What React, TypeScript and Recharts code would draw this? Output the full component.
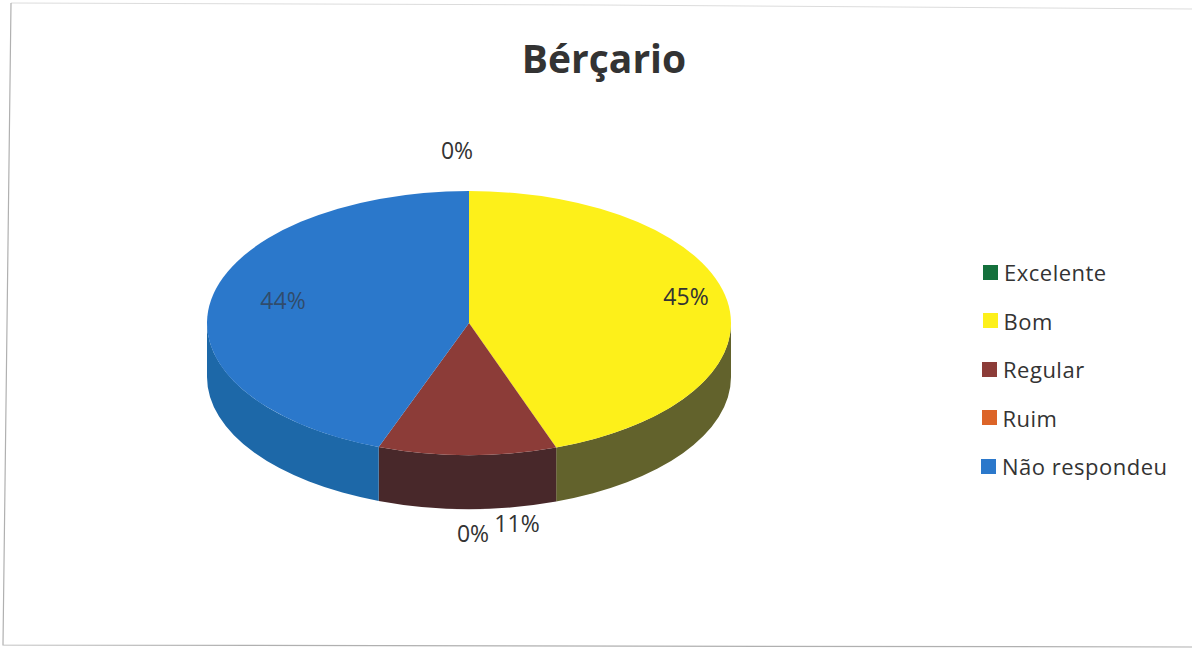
import React from "react";
import { PieChart, Pie, Cell, Legend } from "recharts";

const categories = ["Excelente", "Bom", "Regular", "Ruim", "Não respondeu"];
const values = [0, 44.6, 11, 0, 44.4];
const topColors = ["#14703c", "#fdf01a", "#8c3c38", "#dc6428", "#2b78cb"];
const wallColors = ["#0c4426", "#62622c", "#48282a", "#7a3c18", "#1d68a8"];

const chartData = categories.map((name, i) => ({ name, value: values[i], wall: wallColors[i] }));

const W = 1192;
const H = 649;
const CX = 469;
const CY = 323;
const RX = 262;
const SQUASH = 132 / 262;
const DEPTH = 54;
const FONT = "'Open Sans', sans-serif";
const INK = "#333333";

// label anchor per slice, in page pixels (Excel's manual placement)
const labelAnchors: [number, number][] = [
  [457, 150],
  [686, 296],
  [517, 523],
  [473, 533],
  [283, 300],
];

const pt = (cx: number, cy: number, r: number, a: number) => {
  const rad = (a * Math.PI) / 180;
  return [cx + r * Math.cos(rad), cy - r * SQUASH * Math.sin(rad)];
};

function EllipticalSlice(props: any) {
  const { cx, cy, outerRadius: r, startAngle, endAngle, fill, payload } = props;
  if (Math.abs(startAngle - endAngle) < 0.01) return null;
  const ry = r * SQUASH;
  const [x1, y1] = pt(cx, cy, r, startAngle);
  const [x2, y2] = pt(cx, cy, r, endAngle);
  const large = Math.abs(startAngle - endAngle) > 180 ? 1 : 0;
  const top = `M${cx},${cy} L${x1},${y1} A${r},${ry} 0 ${large} 1 ${x2},${y2} Z`;
  const ws = Math.min(startAngle, 0);
  const we = Math.max(endAngle, -180);
  let wall: React.ReactNode = null;
  if (ws > we) {
    const [a1, b1] = pt(cx, cy, r, ws);
    const [a2, b2] = pt(cx, cy, r, we);
    const d = `M${a1},${b1} A${r},${ry} 0 0 1 ${a2},${b2} L${a2},${b2 + DEPTH} A${r},${ry} 0 0 0 ${a1},${b1 + DEPTH} Z`;
    wall = <path d={d} fill={payload?.wall ?? props.wall} />;
  }
  return (
    <g>
      {wall}
      <path d={top} fill={fill} />
    </g>
  );
}

function sliceLabel(props: any) {
  const { index, percent } = props;
  const [x, y] = labelAnchors[index];
  return (
    <text x={x} y={y} textAnchor="middle" dominantBaseline="central" fontFamily={FONT} fontSize={23} fill={INK} fillOpacity={index === 4 ? 0.65 : 1}>
      {`${Math.round(percent * 100)}%`}
    </text>
  );
}

function LegendRows({ payload }: any) {
  return (
    <div style={{ position: "relative" }}>
      {(payload ?? []).map((p: any, i: number) => (
        <div
          key={p.value}
          style={{
            position: "absolute",
            left: 2 - i * 0.5,
            top: i * 48.5,
            height: 28,
            display: "flex",
            alignItems: "center",
            whiteSpace: "nowrap",
            fontFamily: FONT,
            fontSize: 22,
            letterSpacing: 0.5,
            color: INK,
          }}
        >
          <span style={{ display: "inline-block", width: 15, height: 15, background: p.color, marginRight: 6 }} />
          {p.value}
        </div>
      ))}
    </div>
  );
}

export default function App() {
  return (
    <div style={{ position: "fixed", left: 0, top: 0, width: W, height: H, overflow: "hidden", background: "#fff" }}>
      <svg width={W} height={H} style={{ position: "absolute", left: 0, top: 0 }}>
        <polyline points="1192,9 600,5 11,3" fill="none" stroke="#dcdcdc" strokeWidth={1} />
        <polyline points="11,3 3,645 1192,647" fill="none" stroke="#b0b0b0" strokeWidth={1.2} />
      </svg>
      <div style={{ position: "absolute", left: 0, top: 0 }}>
        <PieChart width={W} height={H} margin={{ top: 0, right: 0, bottom: 0, left: 0 }}>
          <text x={604} y={57} textAnchor="middle" dominantBaseline="central" fontFamily={FONT} fontWeight={700} fontSize={39} fill={INK}>
            Bérçario
          </text>
          <Pie
            data={chartData}
            dataKey="value"
            nameKey="name"
            cx={CX}
            cy={CY}
            innerRadius={0}
            outerRadius={RX}
            startAngle={90}
            endAngle={-270}
            stroke="none"
            isAnimationActive={false}
            shape={EllipticalSlice}
            label={sliceLabel}
            labelLine={false}
          >
            {chartData.map((d, i) => (
              <Cell key={d.name} fill={topColors[i]} />
            ))}
          </Pie>
          <Legend
            content={LegendRows}
            itemSorter={null}
            wrapperStyle={{ position: "absolute", left: 981, top: 258, width: 210, height: 0 }}
          />
        </PieChart>
      </div>
    </div>
  );
}
